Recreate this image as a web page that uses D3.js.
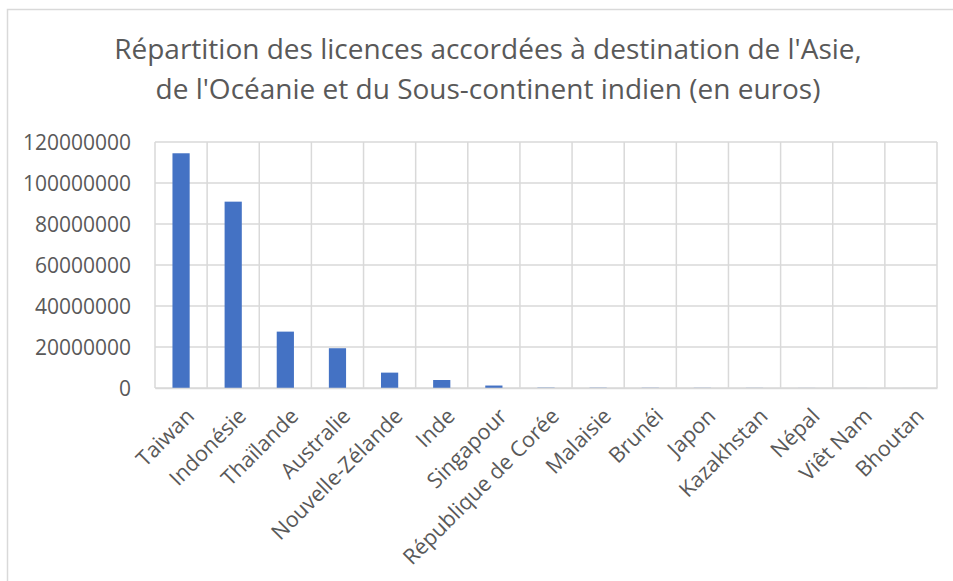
<!DOCTYPE html>
<html lang="fr">
<head>
  <meta charset="UTF-8">
  <title>Répartition des licences</title>
  <script src="https://d3js.org/d3.v7.min.js"></script>
  <style>
    html, body {
      margin: 0;
      padding: 0;
      background: #ffffff;
      font-family: 'Open Sans', 'Noto Sans', sans-serif;
    }
    svg { display: block; }
    .tick-label { fill: #595959; font-size: 21px; font-family: 'Open Sans', sans-serif; }
    .x-label { font-size: 21.5px; }
    .title { fill: #595959; font-size: 28px; font-family: 'Open Sans', sans-serif; }
  </style>
</head>
<body>
<svg id="chart" width="953" height="581"></svg>
<script>
  // données
  const titleLines = [
    "Répartition des licences accordées à destination de l'Asie,",
    "de l'Océanie et du Sous-continent indien (en euros)"
  ];
  const countries = ["Taiwan", "Indonésie", "Thaïlande", "Australie", "Nouvelle-Zélande", "Inde",
    "Singapour", "République de Corée", "Malaisie", "Brunéi", "Japon", "Kazakhstan",
    "Népal", "Viêt Nam", "Bhoutan"];
  const amounts = [114500000, 90900000, 27500000, 19400000, 7500000, 3900000,
    1200000, 150000, 120000, 90000, 70000, 50000, 30000, 20000, 10000];
  const yTicks = [0, 20000000, 40000000, 60000000, 80000000, 100000000, 120000000];

  const svg = d3.select("#chart");
  const margin = { top: 142, right: 16, bottom: 193, left: 155 };
  const width = 953 - margin.left - margin.right;
  const height = 581 - margin.top - margin.bottom;
  const gridColor = "#d9d9d9";

  // cadre extérieur du graphique
  svg.append("rect")
    .attr("x", 7.5).attr("y", 9.5)
    .attr("width", 990).attr("height", 640)
    .attr("fill", "none").attr("stroke", gridColor).attr("stroke-width", 1.5);

  svg.append("text").attr("class", "title")
    .attr("text-anchor", "middle")
    .selectAll("tspan").data(titleLines).join("tspan")
    .attr("x", 488)
    .attr("y", (d, i) => 59 + i * 40)
    .text(d => d);

  const g = svg.append("g").attr("transform", `translate(${margin.left},${margin.top})`);

  const x = d3.scaleBand().domain(countries).range([0, width]).paddingInner(0.67).paddingOuter(0.335);
  const xGrid = d3.scaleBand().domain(countries).range([0, width]);
  const y = d3.scaleLinear().domain([0, 120000000]).range([height, 0]);

  // grille horizontale
  g.append("g").selectAll("line").data(yTicks).join("line")
    .attr("x1", 0).attr("x2", width)
    .attr("y1", d => y(d)).attr("y2", d => y(d))
    .attr("stroke", gridColor).attr("stroke-width", 1.5);

  // grille verticale (limites de catégories)
  const bounds = countries.map(c => xGrid(c)).concat([width]);
  g.append("g").selectAll("line").data(bounds).join("line")
    .attr("x1", d => d).attr("x2", d => d)
    .attr("y1", 0).attr("y2", height)
    .attr("stroke", gridColor).attr("stroke-width", 1.5);

  // axe Y
  const yAxis = g.append("g")
    .attr("transform", "translate(-21,0)")
    .call(d3.axisLeft(y).tickValues(yTicks).tickSize(0).tickFormat(d3.format("d")));
  yAxis.attr("font-family", "'Open Sans', sans-serif");
  yAxis.select(".domain").remove();
  yAxis.selectAll("text").attr("class", "tick-label").attr("dy", "0.36em");

  // barres
  g.selectAll("rect.bar").data(countries).join("rect")
    .attr("class", "bar")
    .attr("x", d => x(d))
    .attr("width", x.bandwidth())
    .attr("y", (d, i) => y(amounts[i]))
    .attr("height", (d, i) => height - y(amounts[i]))
    .attr("fill", "#4472c4");

  // axe X
  const xAxis = g.append("g")
    .attr("transform", `translate(0,${height})`)
    .call(d3.axisBottom(xGrid).tickSize(0));
  xAxis.attr("font-family", "'Open Sans', sans-serif");
  xAxis.select(".domain").attr("stroke", gridColor).attr("stroke-width", 1.5);
  xAxis.selectAll("text")
    .attr("class", "tick-label x-label")
    .attr("text-anchor", "end")
    .attr("dy", "0.35em")
    .attr("transform", "translate(7,22) rotate(-45)");
</script>
</body>
</html>
